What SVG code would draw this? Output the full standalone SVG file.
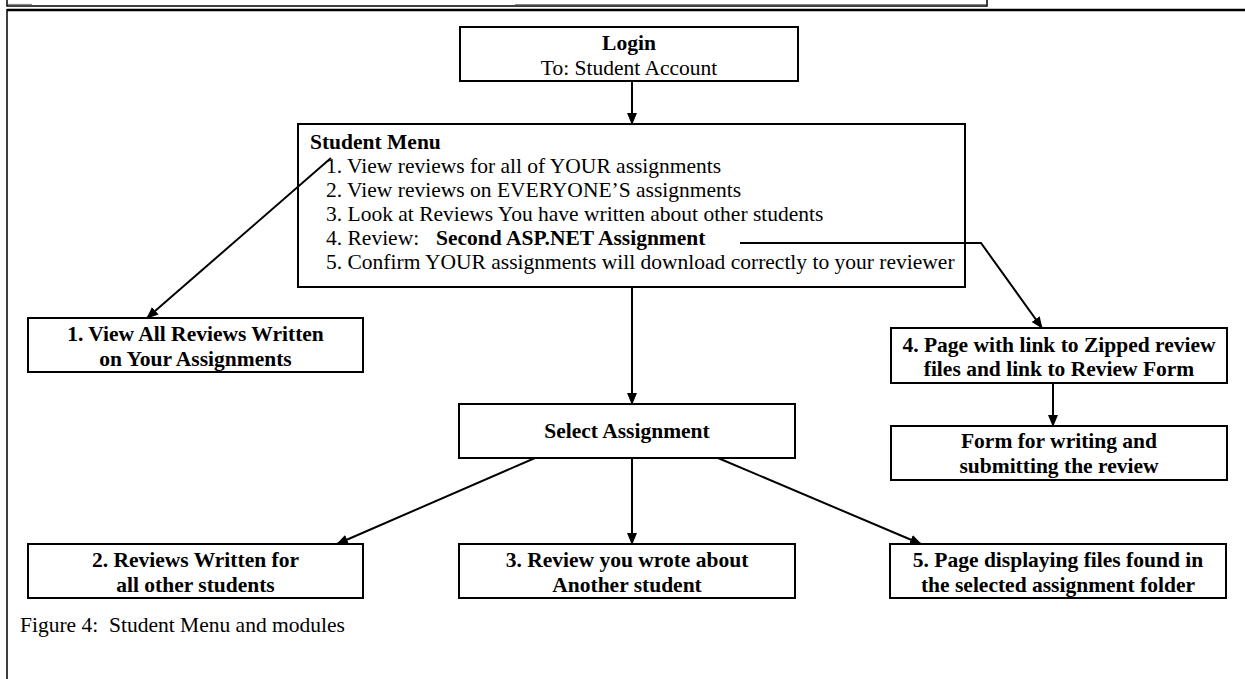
<svg xmlns="http://www.w3.org/2000/svg" width="1245" height="679" viewBox="0 0 1245 679">
<defs>
<style>
.box{fill:#fff;stroke:#000;stroke-width:2}
.t{font-family:"Liberation Serif","Times New Roman",serif;font-size:21.5px;fill:#000}
.b{font-weight:bold}
.c{text-anchor:middle}
.con{fill:none;stroke:#000;stroke-width:2}
.frame{fill:none;stroke:#000}
</style>
<marker id="ah" markerUnits="userSpaceOnUse" markerWidth="12" markerHeight="10" refX="11" refY="5" orient="auto">
<path d="M0,0 L12,5 L0,10 z" fill="#000"/>
</marker>
</defs>
<rect width="1245" height="679" fill="#fff"/>
<g id="frame">
<path class="frame" stroke-width="1.5" d="M7,0 V6 H987 V0"/>
<line x1="515" y1="4.5" x2="986" y2="4.5" stroke="#888" stroke-width="1.2"/>
<line x1="8" y1="4.5" x2="32" y2="4.5" stroke="#888" stroke-width="1.2"/>
<line x1="7" y1="10" x2="1245" y2="10" stroke="#000" stroke-width="2.5"/>
<line x1="7" y1="9" x2="7" y2="679" stroke="#000" stroke-width="1.5"/>
</g>
<g id="connectors">
<line class="con" x1="632" y1="81" x2="632" y2="124" marker-end="url(#ah)"/>
<line class="con" x1="331" y1="158" x2="147" y2="318" marker-end="url(#ah)"/>
<line class="con" x1="632" y1="287" x2="632" y2="404" marker-end="url(#ah)"/>
<polyline class="con" points="740,243 981,243 1042,328" marker-end="url(#ah)"/>
<line class="con" x1="1053" y1="383" x2="1053" y2="426" marker-end="url(#ah)"/>
<line class="con" x1="535" y1="458" x2="337" y2="544" marker-end="url(#ah)"/>
<line class="con" x1="632" y1="458" x2="632" y2="544" marker-end="url(#ah)"/>
<line class="con" x1="718" y1="458" x2="921" y2="544" marker-end="url(#ah)"/>
</g>
<g id="login">
<rect class="box" x="460" y="27" width="338" height="54"/>
<text class="t b c" x="629" y="50">Login</text>
<text class="t c" x="629" y="75">To: Student Account</text>
</g>
<g id="student-menu">
<rect class="box" x="298" y="124" width="667" height="163" style="fill:none"/>
<text class="t b" x="310" y="149">Student Menu</text>
<text class="t" x="326" y="173">1. View reviews for all of YOUR assignments</text>
<text class="t" x="326" y="197">2. View reviews on EVERYONE’S assignments</text>
<text class="t" x="326" y="221">3. Look at Reviews You have written about other students</text>
<text class="t" x="326" y="245">4. Review: <tspan class="b" x="436">Second ASP.NET Assignment</tspan></text>
<text class="t" x="326" y="269">5. Confirm YOUR assignments will download correctly to your reviewer</text>
</g>
<g id="view-all-reviews">
<rect class="box" x="28" y="318" width="335" height="54"/>
<text class="t b c" x="195.5" y="341">1. View All Reviews Written</text>
<text class="t b c" x="195.5" y="366">on Your Assignments</text>
</g>
<g id="zipped-page">
<rect class="box" x="891" y="328" width="336" height="55"/>
<text class="t b c" x="1059" y="352">4. Page with link to Zipped review</text>
<text class="t b c" x="1059" y="376">files and link to Review Form</text>
</g>
<g id="review-form">
<rect class="box" x="891" y="426" width="336" height="54"/>
<text class="t b c" x="1059" y="448">Form for writing and</text>
<text class="t b c" x="1059" y="473">submitting the review</text>
</g>
<g id="select-assignment">
<rect class="box" x="459" y="404" width="336" height="54"/>
<text class="t b c" x="627" y="438">Select Assignment</text>
</g>
<g id="reviews-written">
<rect class="box" x="28" y="544" width="335" height="54"/>
<text class="t b c" x="195.5" y="567">2. Reviews Written for</text>
<text class="t b c" x="195.5" y="592">all other students</text>
</g>
<g id="review-you-wrote">
<rect class="box" x="459" y="544" width="336" height="54"/>
<text class="t b c" x="627" y="567">3. Review you wrote about</text>
<text class="t b c" x="627" y="592">Another student</text>
</g>
<g id="page-files">
<rect class="box" x="890" y="544" width="336" height="54"/>
<text class="t b c" x="1058" y="567">5. Page displaying files found in</text>
<text class="t b c" x="1058" y="592">the selected assignment folder</text>
</g>
<text class="t" x="20" y="632" xml:space="preserve">Figure 4:  Student Menu and modules</text>
</svg>
